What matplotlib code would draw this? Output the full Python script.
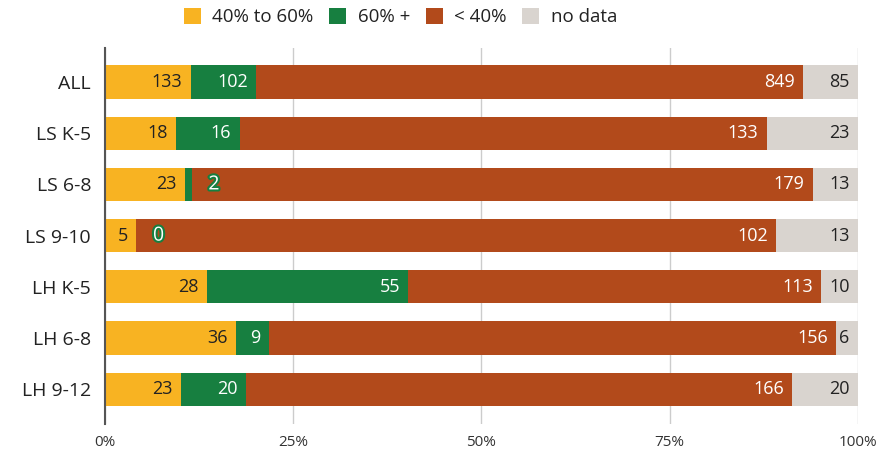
import numpy as np
import matplotlib.pyplot as plt
import matplotlib.patheffects as pe
from matplotlib.ticker import FuncFormatter

plt.rcParams['font.family'] = ['Open Sans', 'DejaVu Sans']

# groups and counts per band
groups = ["ALL", "LS K-5", "LS 6-8", "LS 9-10", "LH K-5", "LH 6-8", "LH 9-12"]
series_names = ["40% to 60%", "60% +", "< 40%", "no data"]
mid = [133, 18, 23, 5, 28, 36, 23]
high = [102, 16, 2, 0, 55, 9, 20]
low = [849, 133, 179, 102, 113, 156, 166]
nodata = [85, 23, 13, 13, 10, 6, 20]

colors = ["#F8B322", "#177F40", "#B24A1B", "#D9D4CF"]
text_colors = ["#222222", "white", "white", "#222222"]

counts = np.array([mid, high, low, nodata], dtype=float)
totals = counts.sum(axis=0)
shares = counts / totals

fig = plt.figure(figsize=(8.94, 4.51), dpi=100)
ax = fig.add_axes([0.1174, 0.06, 0.8423, 0.834])

y = np.arange(len(groups))
left = np.zeros(len(groups))
for k, name in enumerate(series_names):
    ax.barh(y, shares[k], left=left, height=0.65, color=colors[k],
            label=name, zorder=3)
    for i in range(len(groups)):
        end = left[i] + shares[k][i]
        val = int(counts[k][i])
        if shares[k][i] < 0.025:
            # too narrow: put the number just past the segment with a halo
            ax.annotate(str(val), (end, y[i]), xytext=(12, 0),
                        textcoords="offset points", ha="left", va="center",
                        fontsize=14, color="white", zorder=5,
                        path_effects=[pe.Stroke(linewidth=3, foreground=colors[1]),
                                      pe.Normal()])
        else:
            ax.annotate(str(val), (end, y[i]), xytext=(-6, 0),
                        textcoords="offset points", ha="right", va="center",
                        fontsize=13, color=text_colors[k], zorder=5)
    left = left + shares[k]

ax.set_xlim(0, 1)
ax.set_ylim(6.68, -0.67)
ax.set_yticks(y)
ax.set_yticklabels(groups, fontsize=14, color="#222222")
ax.set_xticks([0, 0.25, 0.5, 0.75, 1.0])
ax.xaxis.set_major_formatter(FuncFormatter(lambda v, p: f"{int(round(v * 100))}%"))
ax.tick_params(axis="x", length=0, labelsize=11, labelcolor="#333333", pad=8)
ax.tick_params(axis="y", length=0, pad=10)
ax.grid(axis="x", color="#CCCCCC", linewidth=1, zorder=0)
for s in ["top", "right", "bottom"]:
    ax.spines[s].set_visible(False)
ax.spines["left"].set_color("#555555")
ax.spines["left"].set_linewidth(1.5)
ax.spines["left"].set_zorder(4)

handles, labels = ax.get_legend_handles_labels()
fig.legend(handles, labels, loc="center", bbox_to_anchor=(0.448, 0.962),
           ncol=4, frameon=False, fontsize=13.5, handlelength=0.9, handleheight=0.9,
           handletextpad=0.6, columnspacing=0.85, labelcolor="#222222")

fig.savefig("out.png", dpi=100)
